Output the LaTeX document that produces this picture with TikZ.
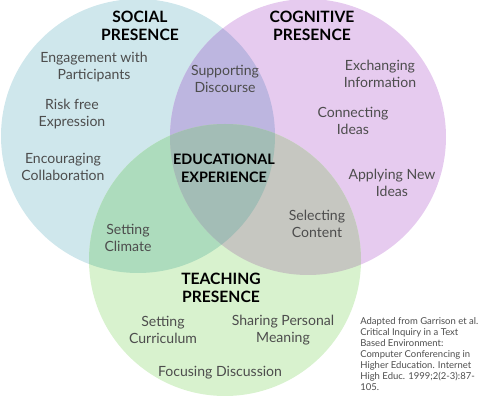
\documentclass[tikz,border=0pt]{standalone}
\usepackage{fontspec}
\setmainfont{Lato}
\definecolor{socialc}{HTML}{CFE7EC}
\definecolor{cognitivec}{HTML}{E6CBEF}
\definecolor{teachingc}{HTML}{D8F2CE}
\definecolor{socogc}{HTML}{BDB6E0}
\definecolor{soteachc}{HTML}{ADDCBD}
\definecolor{cogteachc}{HTML}{C6C7C1}
\definecolor{centrec}{HTML}{A3BDB6}
\definecolor{labelgray}{HTML}{4D4D4D}
\tikzset{
  heading/.style={font=\fontsize{8.9}{10.3}\selectfont\bfseries, text=black, align=center},
  trait/.style={font=\fontsize{8}{9.7}\selectfont, text=labelgray, align=center},
}
\begin{document}
\begin{tikzpicture}[x=0.02cm,y=-0.02cm]
      \useasboundingbox (0,0) rectangle (491,405);

      \coordinate (S) at (138,136);
      \coordinate (C) at (308,137);
      \coordinate (T) at (225,260);

      % circles
      \fill[socialc]    (S) circle (137);
      \fill[cognitivec] (C) circle (138);
      \fill[teachingc]  (T) circle (136);

      % overlaps
      \begin{scope}
        \clip (S) circle (137);
        \fill[socogc] (C) circle (138);
      \end{scope}
      \begin{scope}
        \clip (S) circle (137);
        \fill[soteachc] (T) circle (136);
      \end{scope}
      \begin{scope}
        \clip (C) circle (138);
        \fill[cogteachc] (T) circle (136);
      \end{scope}
      \begin{scope}
        \clip (S) circle (137);
        \clip (C) circle (138);
        \fill[centrec] (T) circle (136);
      \end{scope}

      \begin{scope}[every node/.style={heading}]
        \node (social)    at (140,26)  {SOCIAL\\PRESENCE};
        \node (cognitive) at (312,26)  {COGNITIVE\\PRESENCE};
        \node (teaching)  at (221,288) {TEACHING\\PRESENCE};
        \node[font=\fontsize{8.2}{10.3}\selectfont\bfseries] (edu) at (224,168) {EDUCATIONAL\\EXPERIENCE};
      \end{scope}

      \begin{scope}[every node/.style={trait}]
        \node (engage)     at (94,67)   {Engagement with\\Participants};
        \node (risk)       at (72,114)  {Risk free\\Expression};
        \node (collab)     at (63,167)  {Encouraging\\Collaboration};
        \node (discourse)  at (225,79)  {Supporting\\Discourse};
        \node (exchange)   at (380,74)  {Exchanging\\Information};
        \node (connect)    at (353,121) {Connecting\\Ideas};
        \node (apply)      at (392,183) {Applying New\\Ideas};
        \node (climate)    at (128,238) {Setting\\Climate};
        \node (content)    at (317,224) {Selecting\\Content};
        \node (curriculum) at (163,330) {Setting\\Curriculum};
        \node (meaning)    at (283,330) {Sharing Personal\\Meaning};
        \node (focus)      at (220,373) {Focusing Discussion};
      \end{scope}

      \node[anchor=north west, inner sep=0pt, align=left, text=labelgray,
            font=\fontsize{5.4}{6.3}\selectfont] (source) at (360,317)
        {Adapted from Garrison et al.\\Critical Inquiry in a Text\\Based Environment:\\Computer Conferencing in\\Higher Education. Internet\\High Educ. 1999;2(2-3):87-\\105.};

    \end{tikzpicture}
\end{document}
